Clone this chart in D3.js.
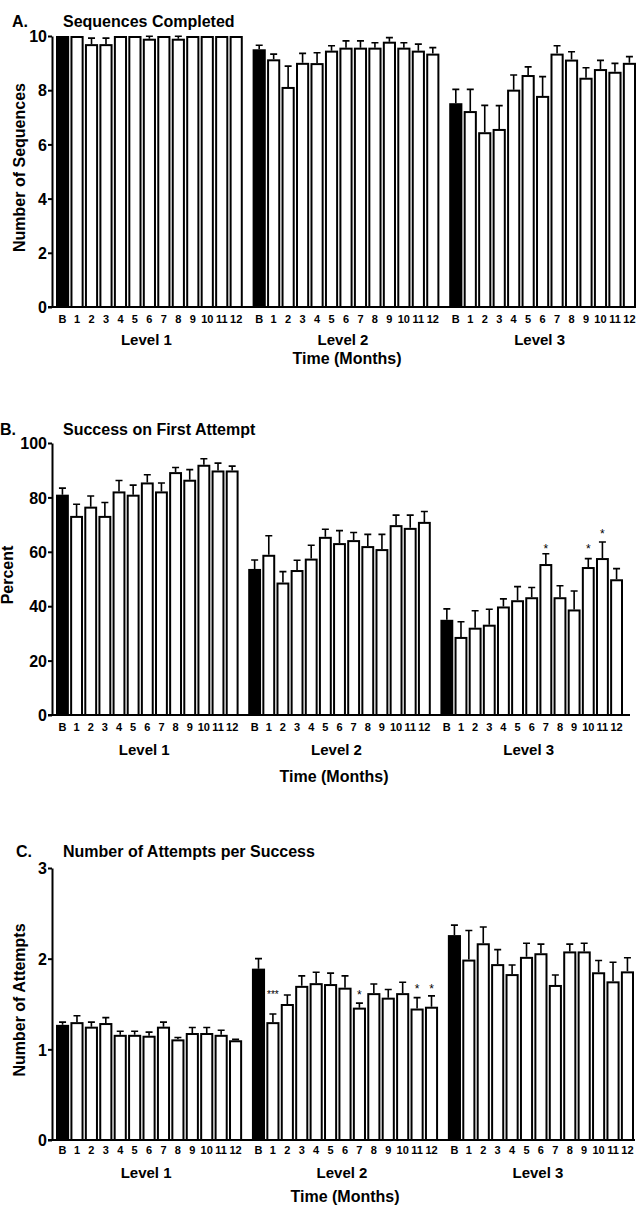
<!DOCTYPE html>
<html>
<head>
<meta charset="utf-8">
<script src="https://cdn.jsdelivr.net/npm/d3@7"></script>
<style>
  body { margin: 0; background: #fff; }
  text { font-family: "Liberation Sans", Arial, Helvetica, sans-serif; font-weight: bold; fill: #000; }
</style>
</head>
<body>
<div id="chart"></div>
<script>
const width = 636, height = 1205;

// categories
const levels = ["Level 1", "Level 2", "Level 3"];
const months = ["B", "1", "2", "3", "4", "5", "6", "7", "8", "9", "10", "11", "12"];

// A. Sequences completed (mean, SEM), one row per level
const seqMean = [
  [10, 10, 9.7, 9.7, 10, 10, 9.9, 10, 9.9, 10, 10, 10, 10],
  [9.51, 9.14, 8.12, 9.01, 9.0, 9.46, 9.57, 9.57, 9.57, 9.79, 9.57, 9.46, 9.35],
  [7.52, 7.23, 6.45, 6.57, 8.02, 8.56, 7.79, 9.35, 9.13, 8.46, 8.78, 8.68, 9.01]
];
const seqSem = [
  [0, 0, 0.22, 0.22, 0, 0, 0.09, 0, 0.09, 0, 0, 0, 0],
  [0.15, 0.19, 0.77, 0.35, 0.38, 0.18, 0.25, 0.25, 0.18, 0.15, 0.18, 0.24, 0.22],
  [0.51, 0.80, 0.99, 0.86, 0.54, 0.30, 0.71, 0.29, 0.29, 0.37, 0.32, 0.31, 0.23]
];
const seqTicks = [0, 2, 4, 6, 8, 10];

// B. Success on first attempt (percent)
const succMean = [
  [81.0, 73.2, 76.6, 73.2, 82.2, 81.0, 85.5, 82.2, 89.3, 86.5, 92.0, 89.9, 89.9],
  [53.7, 58.9, 48.7, 53.3, 57.5, 65.5, 63.2, 64.3, 62.1, 61.0, 69.8, 68.8, 71.0],
  [35.0, 28.7, 32.1, 33.2, 39.9, 42.2, 43.3, 55.5, 43.3, 38.8, 54.4, 57.7, 49.9]
];
const succSem = [
  [2.4, 4.3, 3.9, 4.9, 4.0, 3.5, 2.8, 3.1, 1.7, 3.7, 2.2, 2.7, 1.6],
  [3.3, 7.0, 4.0, 3.6, 4.9, 2.8, 4.6, 2.8, 4.3, 5.4, 3.7, 4.7, 3.8],
  [4.0, 5.6, 6.2, 5.7, 2.8, 5.0, 3.6, 3.8, 4.2, 6.8, 3.1, 5.9, 3.9]
];
const succTicks = [0, 20, 40, 60, 80, 100];
const succStars = [
  { level: "Level 3", month: "7", at: 62.3, text: "*" },
  { level: "Level 3", month: "10", at: 62.3, text: "*" },
  { level: "Level 3", month: "11", at: 67.7, text: "*" }
];

// C. Number of attempts per success
const attMean = [
  [1.27, 1.30, 1.25, 1.29, 1.16, 1.16, 1.15, 1.25, 1.11, 1.18, 1.18, 1.16, 1.10],
  [1.89, 1.30, 1.50, 1.70, 1.73, 1.72, 1.68, 1.46, 1.62, 1.57, 1.62, 1.45, 1.47],
  [2.26, 1.99, 2.17, 1.94, 1.83, 2.02, 2.06, 1.71, 2.08, 2.08, 1.85, 1.75, 1.86]
];
const attSem = [
  [0.03, 0.07, 0.05, 0.06, 0.04, 0.04, 0.04, 0.05, 0.02, 0.06, 0.06, 0.05, 0.01],
  [0.11, 0.09, 0.10, 0.11, 0.12, 0.12, 0.13, 0.05, 0.10, 0.09, 0.12, 0.12, 0.12],
  [0.11, 0.32, 0.18, 0.16, 0.10, 0.15, 0.10, 0.11, 0.08, 0.09, 0.13, 0.21, 0.15]
];
const attTicks = [0, 1, 2, 3];
const attStars = [
  { level: "Level 2", month: "1", at: 1.62, text: "***" },
  { level: "Level 2", month: "7", at: 1.63, text: "*" },
  { level: "Level 2", month: "11", at: 1.70, text: "*" },
  { level: "Level 2", month: "12", at: 1.70, text: "*" }
];

const panels = [
  { letter: "A.", letterX: 12, title: "Sequences Completed", ylabel: "Number of Sequences",
    mean: seqMean, sem: seqSem, ticks: seqTicks, stars: [],
    top: 36, bottom: 307, x0: 56, x1: 636, axisEnd: 636,
    titleY: 27, ylabelX: 25, tickLabelY: 323, levelY: 345, timeY: 364, timeX: 347 },
  { letter: "B.", letterX: 0, title: "Success on First Attempt", ylabel: "Percent",
    mean: succMean, sem: succSem, ticks: succTicks, stars: succStars,
    top: 443, bottom: 715, x0: 56, x1: 623, axisEnd: 630,
    titleY: 435, ylabelX: 13, tickLabelY: 731, levelY: 755, timeY: 782, timeX: 334 },
  { letter: "C.", letterX: 16, title: "Number of Attempts per Success", ylabel: "Number of Attempts",
    mean: attMean, sem: attSem, ticks: attTicks, stars: attStars,
    top: 868, bottom: 1140, x0: 56, x1: 634, axisEnd: 635,
    titleY: 857, ylabelX: 25, tickLabelY: 1154, levelY: 1178, timeY: 1202, timeX: 345 }
];

const svg = d3.select("#chart")
    .append("svg")
    .attr("width", width)
    .attr("height", height)
    .attr("viewBox", [0, 0, width, height]);

const axisX = 52;

panels.forEach(function(p) {
  const g = svg.append("g");
  const domainMax = p.ticks[p.ticks.length - 1];

  // y scale
  const y = d3.scaleLinear().domain([0, domainMax]).range([p.bottom, p.top]);

  // outer band for levels, inner band for months
  const xg = d3.scaleBand().domain(levels).range([p.x0, p.x1]).paddingInner(0.05);
  const xm = d3.scaleBand().domain(months).range([0, xg.bandwidth()]).paddingInner(0.09);
  const bw = xm.bandwidth();

  const rows = [];
  levels.forEach((lv, li) => months.forEach((m, mi) => {
    rows.push({ level: lv, month: m, v: p.mean[li][mi], e: p.sem[li][mi] });
  }));
  const bx = d => xg(d.level) + xm(d.month);

  // error bars (upper only)
  g.selectAll("path.err")
    .data(rows.filter(d => d.e > 0))
    .join("path")
      .attr("class", "err")
      .attr("d", d => {
        const cx = bx(d) + bw / 2, yt = y(d.v + d.e);
        return `M${cx},${y(d.v)}V${yt}M${cx - 3.5},${yt}H${cx + 3.5}`;
      })
      .attr("fill", "none")
      .attr("stroke", "#000")
      .attr("stroke-width", 1.6);

  // bars
  g.selectAll("rect.bar")
    .data(rows)
    .join("rect")
      .attr("class", "bar")
      .attr("x", d => bx(d) + 1)
      .attr("y", d => y(d.v) + 1)
      .attr("width", bw - 2)
      .attr("height", d => y(0) - y(d.v) - 1)
      .attr("fill", d => d.month === "B" ? "#000" : "#fff")
      .attr("stroke", "#000")
      .attr("stroke-width", 2);

  // significance stars
  g.selectAll("text.star")
    .data(p.stars)
    .join("text")
      .attr("class", "star")
      .attr("x", d => xg(d.level) + xm(d.month) + bw / 2)
      .attr("y", d => y(d.at) + (d.text.length > 1 ? 5 : 7))
      .attr("text-anchor", "middle")
      .attr("font-size", d => d.text.length > 1 ? "10px" : "12px")
      .style("font-weight", "normal")
      .style("fill", "#000")
      .text(d => d.text);

  // y axis
  const yAxis = g.append("g")
      .attr("transform", `translate(${axisX},0)`)
      .call(d3.axisLeft(y).tickValues(p.ticks).tickFormat(d3.format("d"))
        .tickSize(4).tickSizeOuter(0).tickPadding(1));
  yAxis.select(".domain").attr("stroke-width", 2);
  yAxis.selectAll(".tick line").attr("stroke-width", 2);
  yAxis.selectAll(".tick text")
      .attr("font-size", "16px")
      .attr("dy", "0.36em")
      .style("font-family", '"Liberation Sans", Arial, sans-serif')
      .style("font-weight", "bold");

  // x baseline
  g.append("line")
      .attr("x1", axisX - 4).attr("x2", p.axisEnd)
      .attr("y1", y(0)).attr("y2", y(0))
      .attr("stroke", "#000")
      .attr("stroke-width", 2);

  // month tick labels
  g.selectAll("text.mlab")
    .data(rows)
    .join("text")
      .attr("class", "mlab")
      .attr("x", d => bx(d) + bw / 2)
      .attr("y", p.tickLabelY)
      .attr("text-anchor", "middle")
      .attr("font-size", "11px")
      .text(d => d.month);

  // level labels
  g.selectAll("text.lvl")
    .data(levels)
    .join("text")
      .attr("class", "lvl")
      .attr("x", d => xg(d) + xg.bandwidth() / 2 - 3)
      .attr("y", p.levelY)
      .attr("text-anchor", "middle")
      .attr("font-size", "15px")
      .text(d => d);

  // axis title
  g.append("text")
      .attr("x", p.timeX)
      .attr("y", p.timeY)
      .attr("text-anchor", "middle")
      .attr("font-size", "16px")
      .text("Time (Months)");

  // y label
  g.append("text")
      .attr("transform", `translate(${p.ylabelX},${(p.top + p.bottom) / 2 - 4}) rotate(-90)`)
      .attr("text-anchor", "middle")
      .attr("font-size", "16px")
      .text(p.ylabel);

  // panel letter and title
  g.append("text")
      .attr("x", p.letterX)
      .attr("y", p.titleY)
      .attr("font-size", "16px")
      .text(p.letter);
  g.append("text")
      .attr("x", 63)
      .attr("y", p.titleY)
      .attr("font-size", "16px")
      .text(p.title);
});
</script>
</body>
</html>
